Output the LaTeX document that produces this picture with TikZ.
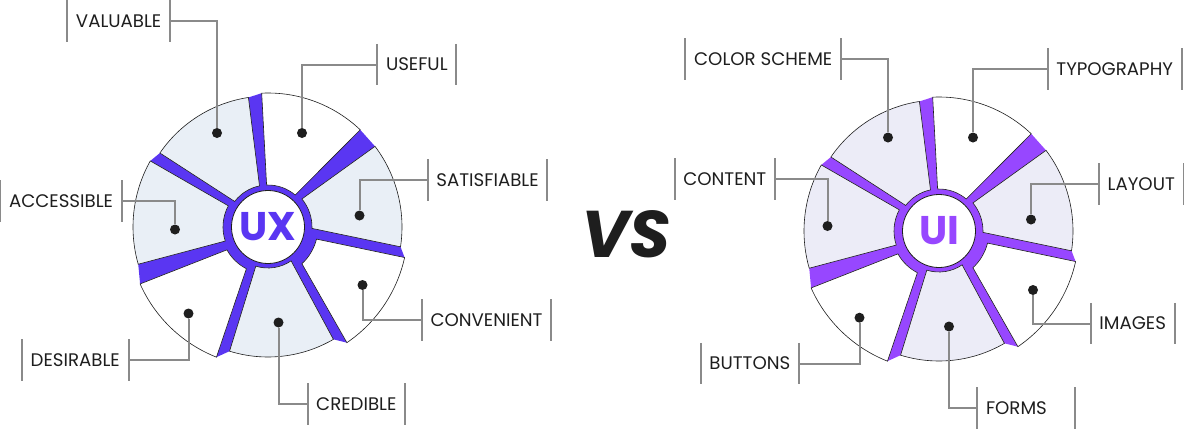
\documentclass[tikz,border=0pt]{standalone}
\usepackage{fontspec}
\setmainfont{Poppins}

\definecolor{uxpurple}{HTML}{5A36F2}
\definecolor{uipurple}{HTML}{9747FF}
\definecolor{uxsoft}{HTML}{E9EFF6}
\definecolor{uisoft}{HTML}{ECECF7}
\definecolor{leadgray}{HTML}{8A8A8A}
\definecolor{ink}{HTML}{1E1E1E}

\tikzset{
  lbl/.style={font=\fontsize{18.2}{20}\selectfont, text=ink, inner xsep=8.5pt, inner ysep=0pt, minimum height=41pt},
  bar/.style={draw=leadgray, line width=2pt},
  lead/.style={draw=leadgray, line width=2pt},
  dot/.style={circle, fill=ink, inner sep=0pt, minimum size=10pt},
  hub/.style={circle, fill=white, draw=ink, line width=0.8pt, minimum size=73pt, inner sep=0pt, font=\fontsize{40}{40}\selectfont\bfseries},
  rim/.style={draw=ink, line width=0.6pt}
}

\def\segs{-8.5/37/134/-1.8/39.6/44/soft, 46.5/92.7/134/49.6/91.9/42/white,
  98.6/145.6/131/101.7/142.5/42/soft, 150.7/196/135/151.9/198.2/45/soft,
  204/248.4/140/209.1/242.6/47/white, 252.8/300.2/130/252.7/304.3/41/soft,
  304.3/347.4/140/312.7/346/50/white}

\newcommand\wheel[4]{%
  \colorlet{soft}{#3}%
  \begin{scope}[shift={#1}]
    \fill[#2] (-8.5:134) \foreach \aa/\ab/\r/\ba/\bb/\ri/\f in \segs {-- (\aa:\r) -- (\ab:\r)} -- cycle;
    \foreach \aa/\ab/\r/\ba/\bb/\ri/\f in \segs
      \filldraw[fill=\f, rim] (\ba:\ri) -- (\aa:\r) arc[start angle=\aa, end angle=\ab, radius=\r pt]
        -- (\bb:\ri) arc[start angle=\bb, end angle=\ba, radius=\ri pt] -- cycle;
    \node[hub, text=#2] (hub#4) {#4};
  \end{scope}}

\begin{document}
\begin{tikzpicture}[x=1pt, y=1pt]
    \useasboundingbox (0,0) rectangle (1184,-429);

    \wheel{(268,-227)}{uxpurple}{uxsoft}{UX}
    \wheel{(939,-231)}{uipurple}{uisoft}{UI}

    \path (626,-234) node[font=\fontsize{66}{66}\selectfont\bfseries\itshape, text=ink] (vs) {VS};

    \path (217,-133) node[dot] (dvaluable) {};
    \path (302,-133) node[dot] (duseful) {};
    \path (359.5,-215.5) node[dot] (dsatisfiable) {};
    \path (175,-229.5) node[dot] (daccessible) {};
    \path (362.5,-285) node[dot] (dconvenient) {};
    \path (188.5,-313.5) node[dot] (ddesirable) {};
    \path (278.5,-322.5) node[dot] (dcredible) {};

    \path (888,-137.5) node[dot] (dcolorscheme) {};
    \path (973,-137.5) node[dot] (dtypography) {};
    \path (827.5,-226) node[dot] (dcontent) {};
    \path (1031,-219.5) node[dot] (dlayout) {};
    \path (1033,-290) node[dot] (dimages) {};
    \path (859.5,-317.7) node[dot] (dbuttons) {};
    \path (949,-326.5) node[dot] (dforms) {};

    \path (170,-21) node[lbl, anchor=east] (valuable) {VALUABLE};
    \path (377.3,-64.5) node[lbl, anchor=west] (useful) {USEFUL};
    \path (427.7,-180) node[lbl, anchor=west] (satisfiable) {SATISFIABLE};
    \path (121.7,-201) node[lbl, anchor=east] (accessible) {ACCESSIBLE};
    \path (421.8,-320) node[lbl, anchor=west] (convenient) {CONVENIENT};
    \path (128.5,-360) node[lbl, anchor=east] (desirable) {DESIRABLE};
    \path (307.5,-404) node[lbl, anchor=west] (credible) {CREDIBLE};

    \path (841,-59) node[lbl, anchor=east] (colorscheme) {COLOR SCHEME};
    \path (1047.7,-69) node[lbl, anchor=west] (typography) {TYPOGRAPHY};
    \path (775,-179) node[lbl, anchor=east] (content) {CONTENT};
    \path (1099,-184) node[lbl, anchor=west] (layout) {LAYOUT};
    \path (1090.7,-323.5) node[lbl, anchor=west] (images) {IMAGES};
    \path (799,-363.5) node[lbl, anchor=east] (buttons) {BUTTONS};
    \path (977.3,-408) node[lbl, anchor=west, text width=80pt] (forms) {FORMS};

    \foreach \n in {valuable, useful, satisfiable, accessible, convenient, desirable, credible,
      colorscheme, typography, content, layout, images, buttons, forms}
      \draw[bar] (\n.north west) -- (\n.south west) (\n.north east) -- (\n.south east);

    \draw[lead] (valuable.east) -| (dvaluable);
    \draw[lead] (useful.west) -| (duseful);
    \draw[lead] (satisfiable.west) -| (dsatisfiable);
    \draw[lead] (accessible.east) -| (daccessible);
    \draw[lead] (convenient.west) -| (dconvenient);
    \draw[lead] (desirable.east) -| (ddesirable);
    \draw[lead] (credible.west) -| (dcredible);

    \draw[lead] (colorscheme.east) -| (dcolorscheme);
    \draw[lead] (typography.west) -| (dtypography);
    \draw[lead] (content.east) -| (dcontent);
    \draw[lead] (layout.west) -| (dlayout);
    \draw[lead] (images.west) -| (dimages);
    \draw[lead] (buttons.east) -| (dbuttons);
    \draw[lead] (forms.west) -| (dforms);
\end{tikzpicture}
\end{document}
